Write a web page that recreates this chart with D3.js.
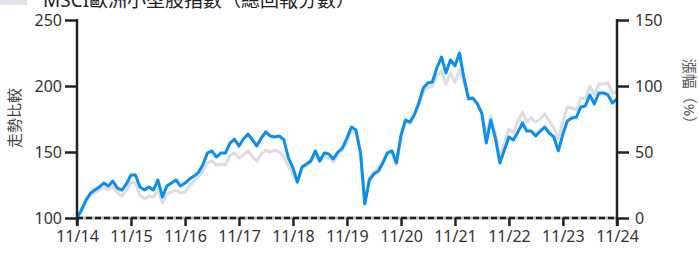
<!DOCTYPE html>
<html>
<head>
<meta charset="utf-8">
<script src="https://cdn.jsdelivr.net/npm/d3@7"></script>
<style>
  body { margin: 0; background: #fff; }
  svg text { font-family: "Noto Sans", "Noto Sans CJK TC", sans-serif; }
</style>
</head>
<body>
<script>
'use strict';

// chart values, monthly from 11/14 to 11/24 (index, 11/14 = 100)
const startMonth = new Date(2014, 10, 1);
const endMonth = new Date(2024, 11, 1);
const months = d3.timeMonth.range(startMonth, endMonth);

const fundValues = [
  100, 106.1, 113.6, 118.9, 121.2, 123.5, 126.5, 124.2, 128.0, 122.7, 121.2, 125.8,
  132.6, 132.6, 123.5, 121.2, 123.5, 121.2, 128.8, 115.9, 124.2, 126.5, 128.8, 124.2,
  126.5, 129.5, 131.8, 134.8, 140.2, 149.2, 150.8, 146.2, 149.2, 149.2, 156.8, 159.8,
  154.5, 159.8, 163.6, 159.1, 154.5, 160.6, 165.2, 162.1, 161.4, 162.1, 159.1, 145.5,
  137.9, 127.3, 138.6, 140.9, 143.2, 150.8, 143.2, 149.2, 148.5, 144.7, 150.0, 153.0,
  160.6, 168.9, 166.7, 149.2, 110.6, 128.8, 133.3, 135.6, 141.7, 149.2, 150.8, 141.7,
  162.9, 174.2, 172.7, 178.8, 187.1, 198.5, 202.3, 203.0, 213.6, 222.0, 209.8, 219.7,
  215.2, 225.0, 206.1, 190.2, 190.9, 186.4, 179.5, 156.8, 174.2, 160.6, 141.7, 151.5,
  161.4, 159.1, 165.2, 172.0, 165.9, 165.9, 162.1, 165.9, 168.9, 164.4, 161.4, 150.8,
  163.6, 173.5, 175.8, 176.5, 184.1, 184.8, 193.2, 186.4, 194.7, 194.7, 193.2, 187.1,
  190.2
];

const indexValues = [
  100, 105.3, 112.1, 116.7, 118.9, 121.2, 123.5, 121.2, 124.2, 118.9, 116.7, 121.2,
  127.3, 126.5, 117.4, 114.4, 116.7, 115.9, 121.2, 111.4, 118.2, 119.7, 121.2, 118.9,
  119.7, 124.2, 128.0, 131.8, 135.6, 141.7, 143.2, 140.2, 140.9, 140.2, 147.7, 149.2,
  145.5, 147.7, 150.8, 146.2, 143.2, 148.5, 151.5, 150.0, 151.5, 150.0, 146.2, 139.4,
  133.3, 126.5, 137.9, 140.2, 141.7, 147.0, 142.4, 146.2, 145.5, 142.4, 147.7, 151.5,
  157.6, 165.9, 165.2, 150.0, 112.1, 130.3, 134.8, 137.9, 143.2, 150.0, 150.0, 140.2,
  161.4, 172.7, 171.2, 177.3, 185.6, 195.5, 198.5, 200.0, 207.6, 211.4, 201.5, 209.8,
  203.0, 212.1, 202.3, 190.9, 190.9, 187.1, 180.3, 162.9, 177.3, 164.4, 146.2, 156.1,
  167.4, 164.4, 173.5, 180.3, 172.7, 175.8, 172.7, 175.0, 178.8, 173.5, 168.2, 159.8,
  173.5, 184.1, 183.3, 181.8, 190.9, 190.2, 200.0, 193.2, 201.5, 201.5, 202.3, 194.7,
  195.5
];

const leftTicks = [100, 150, 200, 250];
const rightTicks = [0, 50, 100, 150];
const yearTicks = d3.timeYear.range(new Date(2014, 0, 1), new Date(2025, 0, 1))
  .map((d) => new Date(d.getFullYear(), 10, 1));

const titleText = "MSCI歐洲小型股指數（總回報分數）";
const leftLabel = "走勢比較";
const rightLabel = "漲幅（%）";

(function() {

  const width = 699, height = 253;
  const plot = { left: 77, right: 617, top: 20, bottom: 218 };

  const svg = d3.select('body')
    .append('svg')
    .attr('width', width)
    .attr('height', height);

  const x = d3.scaleTime()
    .domain([startMonth, months[months.length - 1]])
    .range([plot.left, plot.right]);

  const yLeft = d3.scaleLinear()
    .domain([100, 250])
    .range([plot.bottom, plot.top]);

  const yRight = d3.scaleLinear()
    .domain([0, 150])
    .range([plot.bottom, plot.top]);

  // legend swatch + title (cut off by the top edge)
  svg.append('rect')
    .attr('x', 0).attr('y', -10)
    .attr('width', 27).attr('height', 15)
    .attr('fill', '#e2e2ea');

  svg.append('text')
    .attr('x', 43).attr('y', 7)
    .style('font-size', '19px')
    .style('fill', '#222')
    .text(titleText);

  // data lines
  const line = d3.line()
    .x((d, i) => x(months[i]))
    .y((d) => yLeft(d));

  svg.append('path')
    .datum(indexValues)
    .attr('fill', 'none')
    .attr('stroke', '#dcdce2')
    .attr('stroke-width', 3)
    .attr('stroke-linejoin', 'round')
    .attr('d', line);

  svg.append('path')
    .datum(fundValues)
    .attr('fill', 'none')
    .attr('stroke', '#0a8ff0')
    .attr('stroke-width', 3)
    .attr('stroke-linejoin', 'round')
    .attr('d', line);

  // baseline: gray under black dashes
  svg.append('line')
    .attr('x1', plot.left).attr('x2', plot.right)
    .attr('y1', yLeft(100)).attr('y2', yLeft(100))
    .attr('stroke', '#b8b8c0')
    .attr('stroke-width', 3);

  svg.append('line')
    .attr('x1', plot.left).attr('x2', plot.right)
    .attr('y1', yLeft(100)).attr('y2', yLeft(100))
    .attr('stroke', '#222')
    .attr('stroke-width', 2.5)
    .attr('stroke-dasharray', '6,3');

  // axes
  function styleAxis(g) {
    g.select('.domain').remove();
    g.selectAll('.tick line').attr('stroke', '#222').attr('stroke-width', 2.5);
    g.selectAll('.tick text')
      .style('font-size', '16px')
      .style('fill', '#333');
  }

  svg.append('g')
    .attr('transform', 'translate(' + plot.left + ',0)')
    .call(d3.axisLeft(yLeft).tickValues(leftTicks).tickSize(12).tickPadding(3))
    .call(styleAxis);

  svg.append('g')
    .attr('transform', 'translate(' + plot.right + ',0)')
    .call(d3.axisRight(yRight).tickValues(rightTicks).tickSize(12).tickPadding(6))
    .call(styleAxis);

  svg.append('g')
    .attr('transform', 'translate(0,' + plot.bottom + ')')
    .call(d3.axisBottom(x).tickValues(yearTicks).tickFormat(d3.timeFormat('%m/%y'))
      .tickSize(8).tickPadding(5))
    .call(styleAxis);

  // vertical axis lines
  [plot.left, plot.right].forEach((xp) => {
    svg.append('line')
      .attr('x1', xp).attr('x2', xp)
      .attr('y1', plot.top - 1).attr('y2', plot.bottom + 8)
      .attr('stroke', '#222')
      .attr('stroke-width', 2.5);
  });

  // axis titles
  svg.append('text')
    .attr('transform', 'translate(20,118)rotate(-90)')
    .attr('text-anchor', 'middle')
    .style('font-size', '15px')
    .style('fill', '#444')
    .text(leftLabel);

  svg.append('text')
    .attr('transform', 'translate(684,95)rotate(90)')
    .attr('text-anchor', 'middle')
    .style('font-size', '15px')
    .style('fill', '#555')
    .text(rightLabel);

})();
</script>
</body>
</html>
